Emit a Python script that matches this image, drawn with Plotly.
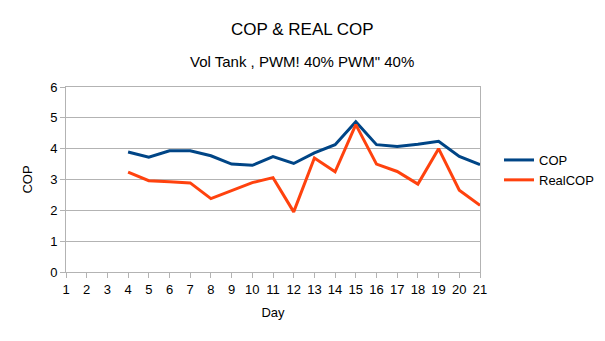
import plotly.graph_objects as go

days = list(range(4, 22))
cop = [3.89, 3.72, 3.93, 3.93, 3.77, 3.50, 3.46, 3.74, 3.52, 3.86, 4.13, 4.87,
       4.13, 4.07, 4.14, 4.24, 3.75, 3.48]
real_cop = [3.24, 2.96, 2.93, 2.89, 2.38, 2.64, 2.90, 3.06, 1.95, 3.70, 3.25, 4.78,
            3.50, 3.26, 2.85, 4.00, 2.65, 2.16]
x_ticks = list(range(1, 22))

FONT = "Liberation Sans, Arial, sans-serif"
GRID = "#b3b3b3"
W, H = 605, 341
ML, MR, MT, MB = 66, 125, 87, 69
pw = W - ML - MR
ph = H - MT - MB


def px_x(x):
    return (x - ML) / pw


def px_y(y):
    return (H - MB - y) / ph


fig = go.Figure()
fig.add_trace(go.Scatter(x=days, y=cop, mode="lines", name="COP",
                         line=dict(color="#004586", width=3)))
fig.add_trace(go.Scatter(x=days, y=real_cop, mode="lines", name="RealCOP",
                         line=dict(color="#ff420e", width=3)))

fig.update_layout(
    width=W, height=H,
    margin=dict(l=ML, r=MR, t=MT, b=MB, autoexpand=False),
    paper_bgcolor="white", plot_bgcolor="white",
    font=dict(family=FONT, size=13, color="#000000"),
    showlegend=True,
    legend=dict(x=px_x(499), y=px_y(170), xanchor="left", yanchor="middle",
                font=dict(size=13), tracegroupgap=0, itemwidth=30,
                bgcolor="rgba(0,0,0,0)"),
    annotations=[
        dict(text="COP & REAL COP", x=px_x(302), y=px_y(41), xref="paper", yref="paper",
             xanchor="center", yanchor="bottom", showarrow=False, font=dict(size=17)),
        dict(text="Vol Tank , PWM! 40% PWM\" 40%", x=px_x(302), y=px_y(72),
             xref="paper", yref="paper", xanchor="center", yanchor="bottom",
             showarrow=False, font=dict(size=15)),
    ],
)

fig.update_xaxes(
    range=[1, 21], tickmode="array", tickvals=x_ticks, ticktext=[str(t) for t in x_ticks],
    showgrid=False, showline=True, linecolor=GRID, linewidth=1, mirror=True,
    ticks="outside", ticklen=5, tickcolor=GRID, tickfont=dict(size=13),
    title=dict(text="Day", font=dict(size=13), standoff=12), zeroline=False,
)
fig.update_yaxes(
    range=[0, 6], dtick=1, showgrid=True, gridcolor=GRID, gridwidth=1,
    showline=True, linecolor=GRID, linewidth=1, mirror=True,
    ticks="outside", ticklen=5, tickcolor=GRID, tickfont=dict(size=13),
    title=dict(text="COP", font=dict(size=13), standoff=14), zeroline=False,
)

fig.write_html("out.html")
